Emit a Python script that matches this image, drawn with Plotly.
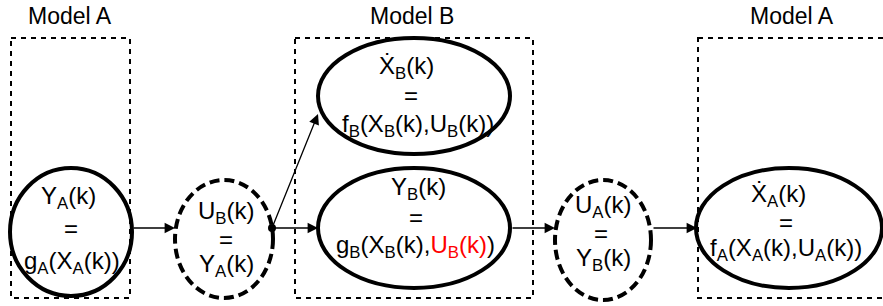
import plotly.graph_objects as go

W, H = 883, 306
FONT = "Liberation Sans, Arial, sans-serif"
FS_TITLE = 23
FS = 24

# ---- diagram content ----
model_titles = ["Model A", "Model B", "Model A"]
node_names = ["YA", "UB", "XB", "YB", "UA", "XA"]
node_lines = [
    ["Y<sub>A</sub>(k)", "=", "g<sub>A</sub>(X<sub>A</sub>(k))"],
    ["U<sub>B</sub>(k)", "=", "Y<sub>A</sub>(k)"],
    ["\u1E8A<sub>B</sub>(k)", "=", "f<sub>B</sub>(X<sub>B</sub>(k),U<sub>B</sub>(k))"],
    ["Y<sub>B</sub>(k)", "=",
     "g<sub>B</sub>(X<sub>B</sub>(k),<span style='color:#ff0000'>U<sub>B</sub>(k)</span>)"],
    ["U<sub>A</sub>(k)", "=", "Y<sub>B</sub>(k)"],
    ["\u1E8A<sub>A</sub>(k)", "=", "f<sub>A</sub>(X<sub>A</sub>(k),U<sub>A</sub>(k))"],
]
node_dashed = [False, True, False, False, True, False]
edges = [("YA", "UB"), ("dot", "XB"), ("dot", "YB"), ("YB", "UA"), ("UA", "XA")]

# ---- layout (pixel positions, y downward) ----
box_geom = [(11, 38, 130, 298), (295, 38, 533, 298), (698, 38, 905, 298)]
title_pos = [(70, 16), (412, 16), (792, 16)]
node_geom = {  # cx, cy, rx, ry
    "YA": (71, 232, 61, 64),
    "UB": (224, 239, 49, 59),
    "XB": (414, 96, 96, 58),
    "YB": (414, 228, 96, 60),
    "UA": (603, 240, 48, 60),
    "XA": (789, 228, 93, 60),
}
line_y = {
    "YA": [197, 228, 262],
    "UB": [212, 239, 265],
    "XB": [67, 95, 125],
    "YB": [188, 217, 246],
    "UA": [206, 233, 259],
    "XA": [195, 222, 249],
}
line_x = {
    "YA": [68, 71, 72],
    "UB": [226, 226, 226],
    "XB": [406, 411, 418],
    "YB": [418, 416, 415],
    "UA": [603, 601, 603],
    "XA": [778, 786, 786],
}
dot = (272, 228)
arrow_pts = {
    ("YA", "UB"): ((132, 228), (175, 228)),
    ("dot", "XB"): ((272, 228), (318, 114)),
    ("dot", "YB"): ((272, 228), (318, 228)),
    ("YB", "UA"): ((511, 228), (555, 228)),
    ("UA", "XA"): ((652, 228), (697, 228)),
}

fig = go.Figure()
shapes = []
annotations = []

for (x0, y0, x1, y1) in box_geom:
    shapes.append(dict(type="rect", xref="x", yref="y", x0=x0, y0=y0, x1=x1, y1=y1,
                       line=dict(color="black", width=2, dash="5px,5px"),
                       fillcolor="rgba(0,0,0,0)", layer="above"))

for t, (tx, ty) in zip(model_titles, title_pos):
    annotations.append(dict(x=tx, y=ty, xref="x", yref="y", text=t, showarrow=False,
                            font=dict(family=FONT, size=FS_TITLE, color="black"),
                            xanchor="center", yanchor="middle"))

for name, lines, dashed in zip(node_names, node_lines, node_dashed):
    cx, cy, rx, ry = node_geom[name]
    shapes.append(dict(type="circle", xref="x", yref="y",
                       x0=cx - rx, x1=cx + rx, y0=cy - ry, y1=cy + ry,
                       line=dict(color="black", width=4,
                                 dash="10px,5px" if dashed else "solid"),
                       fillcolor="rgba(0,0,0,0)", layer="above"))
    for txt, lx, ly in zip(lines, line_x[name], line_y[name]):
        annotations.append(dict(x=lx, y=ly, xref="x", yref="y", text=txt, showarrow=False,
                                font=dict(family=FONT, size=FS, color="black"),
                                xanchor="center", yanchor="middle"))

for e in edges:
    (tx, ty), (hx, hy) = arrow_pts[e]
    annotations.append(dict(x=hx, y=hy, ax=tx, ay=ty, xref="x", yref="y",
                            axref="x", ayref="y", text="", showarrow=True,
                            arrowhead=2, arrowsize=1.6, arrowwidth=1.3,
                            arrowcolor="black", standoff=0, startstandoff=0))

shapes.append(dict(type="circle", xref="x", yref="y",
                   x0=dot[0] - 4, x1=dot[0] + 4, y0=dot[1] - 4, y1=dot[1] + 4,
                   line=dict(color="black", width=0), fillcolor="black", layer="above"))

fig.update_layout(
    width=W, height=H,
    margin=dict(l=0, r=0, t=0, b=0),
    paper_bgcolor="white", plot_bgcolor="white",
    xaxis=dict(range=[0, W], visible=False, fixedrange=True),
    yaxis=dict(range=[H, 0], visible=False, fixedrange=True),
    shapes=shapes, annotations=annotations, showlegend=False,
)
fig.write_html("out.html", config={"displayModeBar": False},
               post_script="document.body.style.margin='0px';document.body.style.overflow='hidden';")
